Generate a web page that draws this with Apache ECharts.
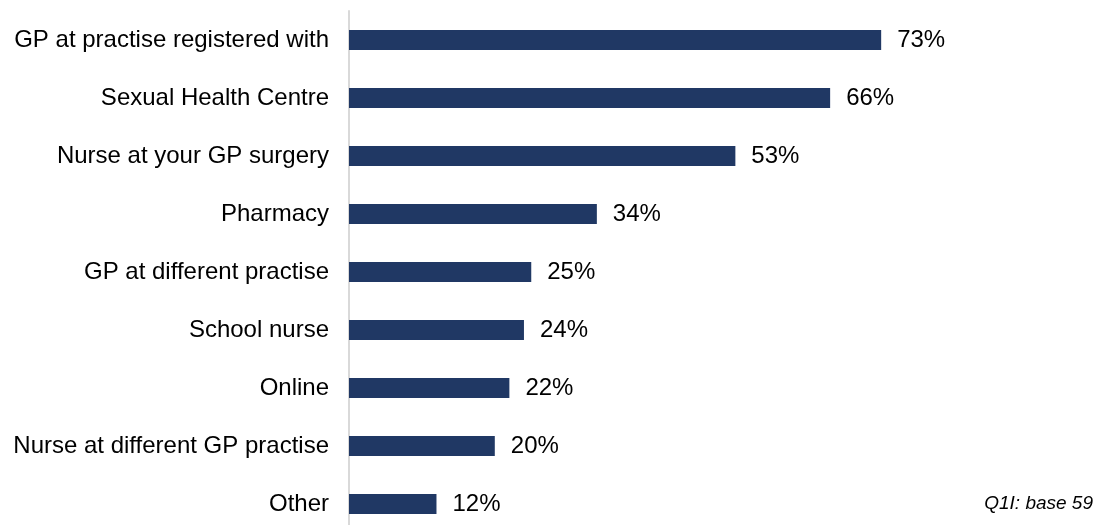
<!DOCTYPE html>
<html>
<head>
<meta charset="utf-8">
<script src="https://cdn.jsdelivr.net/npm/echarts@6/dist/echarts.min.js"></script>
<style>
  html, body { margin: 0; padding: 0; background: #ffffff; overflow: hidden; }
  #chart { width: 1105px; height: 545px; }
</style>
</head>
<body>
<div id="chart"></div>
<script>
// Where respondents would go: share of respondents per source
const categories = [
  'GP at practise registered with',
  'Sexual Health Centre',
  'Nurse at your GP surgery',
  'Pharmacy',
  'GP at different practise',
  'School nurse',
  'Online',
  'Nurse at different GP practise',
  'Other'
];
const values = [73, 66, 53, 34, 25, 24, 22, 20, 12];
const footnote = 'Q1I: base 59';

const chart = echarts.init(document.getElementById('chart'), null, { renderer: 'canvas' });
chart.setOption({
  animation: false,
  backgroundColor: '#ffffff',
  textStyle: { fontFamily: 'Liberation Sans, Arial, sans-serif' },
  // plot area runs past the bottom edge of the visible page, like the source slide
  grid: { left: 349, top: 11, width: 729, height: 522, containLabel: false },
  xAxis: {
    type: 'value',
    min: 0,
    max: 100,
    show: false
  },
  yAxis: {
    type: 'category',
    data: categories,
    inverse: true,
    axisLine: { show: true, lineStyle: { color: '#d9d9d9', width: 2 } },
    axisTick: { show: false },
    axisLabel: {
      margin: 20,
      fontSize: 24,
      color: '#000000',
      fontFamily: 'Liberation Sans, Arial, sans-serif',
      padding: [2, 0, 0, 0]
    }
  },
  series: [{
    type: 'bar',
    data: values,
    barWidth: 20,
    itemStyle: { color: '#203864' },
    label: {
      show: true,
      position: 'right',
      distance: 16,
      fontSize: 24,
      color: '#000000',
      fontFamily: 'Liberation Sans, Arial, sans-serif',
      padding: [3, 0, 0, 0],
      formatter: p => p.value + '%'
    }
  }],
  graphic: [{
    type: 'text',
    right: 12,
    top: 494,
    style: {
      text: footnote,
      fontSize: 19,
      fontStyle: 'italic',
      fill: '#000000',
      fontFamily: 'Liberation Sans, Arial, sans-serif'
    }
  }]
});
</script>
</body>
</html>
